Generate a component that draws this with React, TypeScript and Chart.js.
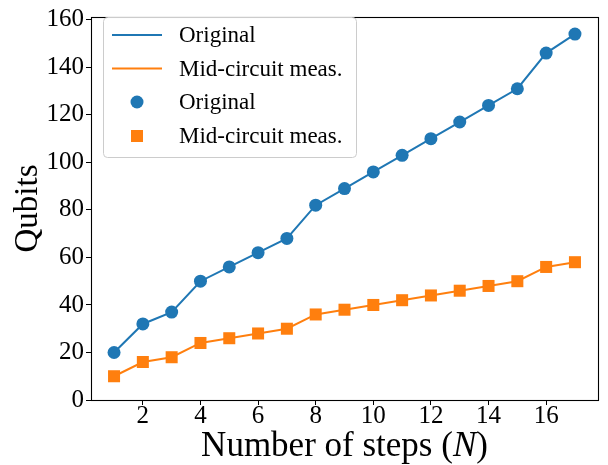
import React, { useEffect, useRef } from "react";
import { Chart, registerables } from "chart.js";

Chart.register(...registerables);

const STEPS = [1, 2, 3, 4, 5, 6, 7, 8, 9, 10, 11, 12, 13, 14, 15, 16, 17];
const ORIGINAL = [20, 32, 37, 50, 56, 62, 68, 82, 89, 96, 103, 110, 117, 124, 131, 146, 154];
const MID_CIRCUIT = [10, 16, 18, 24, 26, 28, 30, 36, 38, 40, 42, 44, 46, 48, 50, 56, 58];
const X_TICKS = [2, 4, 6, 8, 10, 12, 14, 16];
const Y_TICKS = [0, 20, 40, 60, 80, 100, 120, 140, 160];
const LEGEND_LABELS = ["Original", "Mid-circuit meas.", "Original", "Mid-circuit meas."];
const X_TITLE_PARTS = ["Number of steps (", "N", ")"];
const Y_TITLE = "Qubits";

const BLUE = "#1f77b4";
const ORANGE = "#ff7f0e";
const FONT = "'Liberation Serif', 'Times New Roman', serif";

const framePlugin = {
  id: "frameAndTitles",
  afterDraw(chart: any) {
    const { ctx, chartArea } = chart;
    ctx.save();
    // frame
    ctx.strokeStyle = "#000";
    ctx.lineWidth = 1.1;
    ctx.strokeRect(
      Math.round(chartArea.left) + 0.5,
      Math.round(chartArea.top) + 0.5,
      Math.round(chartArea.right - chartArea.left),
      Math.round(chartArea.bottom - chartArea.top)
    );

    // x title with italic N
    ctx.fillStyle = "#000";
    ctx.textBaseline = "alphabetic";
    const normal = `35px ${FONT}`;
    const italic = `italic 35px ${FONT}`;
    const fonts = [normal, italic, normal];
    let total = 0;
    const widths: number[] = [];
    X_TITLE_PARTS.forEach((p, i) => {
      ctx.font = fonts[i];
      const w = ctx.measureText(p).width;
      widths.push(w);
      total += w;
    });
    let x = (chartArea.left + chartArea.right) / 2 - total / 2;
    X_TITLE_PARTS.forEach((p, i) => {
      ctx.font = fonts[i];
      ctx.textAlign = "left";
      ctx.fillText(p, x, 456);
      x += widths[i];
    });

    // y title
    ctx.save();
    ctx.translate(37, (chartArea.top + chartArea.bottom) / 2);
    ctx.rotate(-Math.PI / 2);
    ctx.font = `33px ${FONT}`;
    ctx.textAlign = "center";
    ctx.textBaseline = "alphabetic";
    ctx.fillText(Y_TITLE, 0, 0);
    ctx.restore();

    // legend
    const bx = 103.5, by = 17.5, bw = 253, bh = 140;
    ctx.beginPath();
    (ctx as any).roundRect(bx, by, bw, bh, 4);
    ctx.fillStyle = "rgba(255,255,255,0.8)";
    ctx.fill();
    ctx.strokeStyle = "#cccccc";
    ctx.lineWidth = 1;
    ctx.stroke();

    const rows = [35, 68.5, 102, 136];
    const colors = [BLUE, ORANGE, BLUE, ORANGE];
    rows.forEach((ry, i) => {
      if (i < 2) {
        ctx.beginPath();
        ctx.moveTo(112, ry);
        ctx.lineTo(162, ry);
        ctx.strokeStyle = colors[i];
        ctx.lineWidth = 2;
        ctx.stroke();
      } else if (i === 2) {
        ctx.beginPath();
        ctx.arc(137, ry, 6.5, 0, Math.PI * 2);
        ctx.fillStyle = colors[i];
        ctx.fill();
      } else {
        ctx.fillStyle = colors[i];
        ctx.fillRect(131, ry - 6, 12, 12);
      }
      ctx.fillStyle = "#000";
      ctx.font = `23px ${FONT}`;
      ctx.textAlign = "left";
      ctx.textBaseline = "middle";
      ctx.fillText(LEGEND_LABELS[i], 179, ry + 1);
    });
    ctx.restore();
  },
};

export default function App() {
  const canvasRef = useRef<HTMLCanvasElement | null>(null);

  useEffect(() => {
    document.body.style.margin = "0";
    const canvas = canvasRef.current;
    if (!canvas) return;
    const chart = new Chart(canvas, {
      type: "line",
      data: {
        datasets: [
          {
            label: LEGEND_LABELS[0],
            data: STEPS.map((s, i) => ({ x: s, y: ORIGINAL[i] })),
            borderColor: BLUE,
            backgroundColor: BLUE,
            borderWidth: 2,
            pointStyle: "circle",
            pointRadius: 6.5,
            pointBorderWidth: 0,
            pointBackgroundColor: BLUE,
            tension: 0,
          },
          {
            label: LEGEND_LABELS[1],
            data: STEPS.map((s, i) => ({ x: s, y: MID_CIRCUIT[i] })),
            borderColor: ORANGE,
            backgroundColor: ORANGE,
            borderWidth: 2,
            pointStyle: "rect",
            pointRadius: 8.5,
            pointBorderWidth: 0,
            pointBackgroundColor: ORANGE,
            tension: 0,
          },
        ],
      },
      options: {
        responsive: false,
        animation: false,
        layout: { padding: { left: 0, right: 10, top: 6, bottom: 0 } },
        plugins: {
          legend: { display: false },
          tooltip: { enabled: false },
        },
        scales: {
          x: {
            type: "linear",
            min: 0.2,
            max: 17.8,
            afterBuildTicks: (scale: any) => {
              scale.ticks = X_TICKS.map((v) => ({ value: v }));
            },
            afterFit: (scale: any) => {
              scale.height = 65;
            },
            border: { display: false },
            grid: {
              drawOnChartArea: false,
              drawTicks: true,
              tickLength: 5,
              tickColor: "#000",
              tickWidth: 1,
            },
            ticks: {
              color: "#000",
              font: { family: FONT, size: 25, lineHeight: 1 },
              padding: -1.5,
              maxRotation: 0,
              autoSkip: false,
            },
          },
          y: {
            type: "linear",
            min: 0,
            max: 161.2,
            afterBuildTicks: (scale: any) => {
              scale.ticks = Y_TICKS.map((v) => ({ value: v }));
            },
            afterFit: (scale: any) => {
              scale.width = 91;
            },
            border: { display: false },
            grid: {
              drawOnChartArea: false,
              drawTicks: true,
              tickLength: 5,
              tickColor: "#000",
              tickWidth: 1,
            },
            ticks: {
              color: "#000",
              font: { family: FONT, size: 25 },
              padding: 2,
              autoSkip: false,
            },
          },
        },
      },
      plugins: [framePlugin],
    } as any);
    return () => chart.destroy();
  }, []);

  return (
    <div style={{ position: "absolute", left: 0, top: 0, width: 608, height: 465 }}>
      <canvas ref={canvasRef} width={608} height={465} />
    </div>
  );
}
